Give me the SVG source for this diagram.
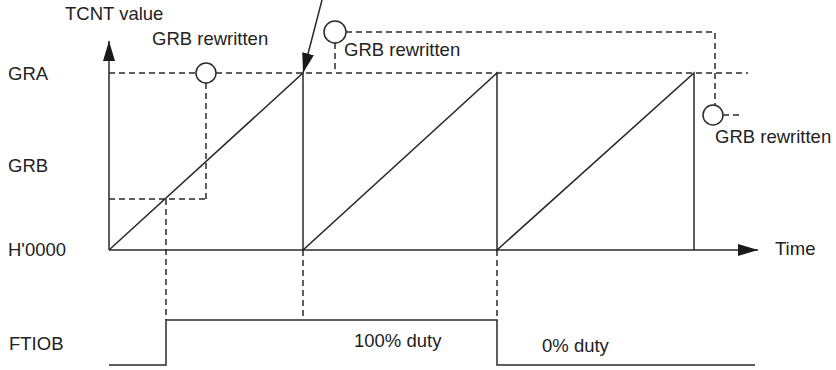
<svg xmlns="http://www.w3.org/2000/svg" width="836" height="370" viewBox="0 0 836 370">
<style>
  .t { font-family: "Liberation Sans", Arial, sans-serif; font-size: 18.5px; fill: #222; }
  .s { fill: none; stroke: #2a2a2a; stroke-width: 1.5; }
  .d { fill: none; stroke: #2a2a2a; stroke-width: 1.5; stroke-dasharray: 6 4; }
  .c { fill: #fff; stroke: #2a2a2a; stroke-width: 1.5; }
</style>
<defs>
  <marker id="ah" viewBox="0 0 20 12" refX="20" refY="6" markerWidth="20" markerHeight="12" markerUnits="userSpaceOnUse" orient="auto">
    <path d="M0,0 L20,6 L0,12 Z" fill="#1a1a1a"/>
  </marker>
</defs>
<rect width="836" height="370" fill="#fff"/>

<g id="labels">
  <text class="t" x="65" y="20">TCNT value</text>
  <text class="t" x="8" y="80">GRA</text>
  <text class="t" x="8" y="172">GRB</text>
  <text class="t" x="8" y="256">H'0000</text>
  <text class="t" x="9" y="350">FTIOB</text>
  <text class="t" x="775" y="255">Time</text>
  <text class="t" x="354" y="347">100% duty</text>
  <text class="t" x="542" y="352">0% duty</text>
</g>

<g id="connectors">
  <!-- axes -->
  <line class="s" x1="109" y1="250" x2="109" y2="41" marker-end="url(#ah)"/>
  <line class="s" x1="109" y1="250" x2="758" y2="250" marker-end="url(#ah)"/>
  <!-- GRA / GRB levels -->
  <line class="d" x1="109" y1="73" x2="196" y2="73"/>
  <line class="d" x1="216" y1="73" x2="748" y2="73"/>
  <line class="d" x1="109" y1="199" x2="206" y2="199"/>
  <line class="d" x1="206" y1="83" x2="206" y2="199"/>
  <!-- sawtooth -->
  <polyline class="s" points="109,250 303,73 303,250 497,73 497,250 694,73 694,250"/>
  <!-- second rewrite -->
  <line class="d" x1="335" y1="43" x2="335" y2="73"/>
  <polyline class="d" points="346,32 715,32 715,105"/>
  <line class="d" x1="723" y1="115" x2="740" y2="115"/>
  <!-- pointer arrow -->
  <line class="s" x1="322" y1="0" x2="303" y2="73" marker-end="url(#ah)"/>
  <!-- projections -->
  <line class="d" x1="166" y1="199" x2="166" y2="320"/>
  <line class="d" x1="303" y1="250" x2="303" y2="320"/>
  <line class="d" x1="497" y1="250" x2="497" y2="320"/>
  <!-- FTIOB -->
  <polyline class="s" points="109,365 166,365 166,320 497,320 497,365 755,365"/>
</g>

<g id="rewrite1">
  <circle class="c" cx="206" cy="73" r="10"/>
  <text class="t" x="152" y="45">GRB rewritten</text>
</g>
<g id="rewrite2">
  <circle class="c" cx="335" cy="32" r="11"/>
  <text class="t" x="344" y="56">GRB rewritten</text>
</g>
<g id="rewrite3">
  <circle class="c" cx="713" cy="115" r="10"/>
  <text class="t" x="715" y="143">GRB rewritten</text>
</g>
</svg>
